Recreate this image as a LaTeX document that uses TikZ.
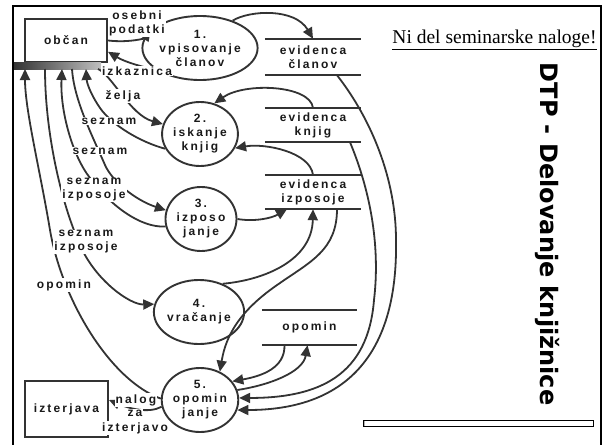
\documentclass[tikz,border=0pt]{standalone}
\usepackage{fontspec}
\setmainfont{Liberation Serif}
\newfontfamily\dfdfont[LetterSpace=18]{Liberation Sans Bold}
\newfontfamily\titlefont{DejaVu Sans Bold}
\usetikzlibrary{arrows.meta,shapes.geometric,calc}
\definecolor{ink}{HTML}{333333}
\begin{document}
\begin{tikzpicture}[x=1pt,y=-1pt,
  dfd/.style={font=\dfdfont\fontsize{12}{14}\selectfont, text=black!90},
  proc/.style={dfd, ellipse, draw=ink, line width=1.9pt, minimum width=71pt, minimum height=64pt, inner sep=0pt, align=center},
  entity/.style={dfd, draw=ink, line width=2pt, inner sep=0pt},
  store/.style={dfd, minimum width=96pt, inner sep=0pt, align=center},
  flow/.style={draw=ink, line width=1.8pt, -{Triangle[length=11pt,width=10pt]}},
  lbl/.style={dfd, fill=white, inner sep=1pt, align=center}
]
\useasboundingbox (0,0) rectangle (604,444);
% entities
\node[entity, minimum width=82pt, minimum height=43pt] (ob) at (66,40.5) {občan};
\shade[left color=black!80, right color=black!25] (14,62) rectangle (101,69);
\node[entity, minimum width=83pt, minimum height=56pt] (iz) at (66.5,409) {izterjava};
% processes
\node[proc] (p1) at (200,48) {1.\\vpisovanje\\članov};
\node[proc] (p2) at (200,134) {2.\\iskanje\\knjig};
\node[proc] (p3) at (201,219) {3.\\izposo\\janje};
\node[proc] (p4) at (199,312) {4.\\vračanje};
\node[proc] (p5) at (200,400) {5.\\opomin\\janje};
% stores
\node[store, minimum height=36pt] (s1) at (313,57) {evidenca\\članov};
\node[store, minimum height=34pt] (s2) at (313,125) {evidenca\\knjig};
\node[store, minimum height=34pt] (s3) at (313,192) {evidenca\\izposoje};
\node[store, minimum width=95pt, minimum height=35pt] (s4) at (309.5,327.5) {opomin};
\foreach \s in {s1,s2,s3,s4} \draw[ink, line width=1.8pt] (\s.north west) -- (\s.north east) (\s.south west) -- (\s.south east);
% bar points
\coordinate (b1) at (25,69);
\coordinate (b2) at (45,69);
\coordinate (b3) at (62,69);
\coordinate (b4) at (72,69);
\coordinate (b5) at (86,69);
\coordinate (b6) at (98,69);
% flows, top
\draw[flow] (ob.0) .. controls (130,43) and (145,38) .. (p1.160);
\draw[flow] (p1.205) .. controls (145,68) and (125,62) .. (ob.-15);
\draw[flow] (p1.40) .. controls (250,10) and (295,8) .. (s1.north);
\draw[flow] (s2.north) .. controls (310,85) and (245,82) .. (p2.65);
\draw[flow] (s3.north) .. controls (310,152) and (265,143) .. (p2.-22);
\draw[flow] (p3.0) .. controls (255,222) and (272,218) .. ($(s3.south)+(-26,0)$);
\draw[flow] (p4.50) .. controls (265,280) and (312,260) .. (s3.south);
\draw[flow] ($(s3.south)+(24,0)$) .. controls (337,250) and (310,262) .. (280,283) .. controls (240,310) and (226,335) .. (p5.55);
\draw[flow] ($(s4.south)+(-25,0)$) .. controls (285,368) and (262,376) .. (p5.30);
\draw[flow] (p5.15) .. controls (270,385) and (303,372) .. ($(s4.south)+(-2,0)$);
\draw[flow] ($(s2.south)+(37,0)$) .. controls (372,195) and (380,250) .. (374,300) .. controls (368,375) and (320,398) .. (p5.3);
\draw[flow] ($(s1.south)+(24,0)$) .. controls (372,120) and (396,180) .. (396,240) .. controls (398,350) and (350,410) .. (p5.-15);
% flows, left
\draw[flow] (p5.178) .. controls (110,380) and (62,300) .. (50,230) .. controls (40,170) and (25,110) .. (b1);
\draw[flow] (b2) .. controls (45,130) and (60,200) .. (80,245) .. controls (95,280) and (130,305) .. (p4.170);
\draw[flow] (p3.192) .. controls (140,228) and (110,205) .. (90,178) .. controls (72,155) and (60,110) .. (b3);
\draw[flow] (b4) .. controls (74,100) and (92,135) .. (105,165) .. controls (112,181) and (135,200) .. (p3.166);
\draw[flow] (p2.203) .. controls (140,142) and (112,125) .. (100,108) .. controls (93,98) and (87,85) .. (b5);
\draw[flow] (b6) .. controls (112,75) and (130,115) .. (p2.165);
\draw[flow] (p5.190) .. controls (148,414) and (128,408) .. ($(iz.east)+(0,-9)$);
% labels
\node[lbl] at (137,23) {osebni\\podatki};
\node[lbl] at (137,71) {izkaznica};
\node[lbl] at (123,96) {želja};
\node[lbl] at (109,121) {seznam};
\node[lbl] at (100,151) {seznam};
\node[lbl] at (94,190) {seznam\\izposoje};
\node[lbl] at (86,242) {seznam\\izposoje};
\node[lbl] at (64,285) {opomin};
\node[lbl] at (136,400) {nalog};
\node[lbl] at (135,413) {za};
\node[lbl] at (135,428) {izterjavo};
% right side
\node[rotate=-90, font=\titlefont\fontsize{24}{24}\selectfont] (title) at (547,234) {DTP - Delovanje knjižnice};
\node[anchor=base, font=\fontsize{19.5}{20}\selectfont] (note) at (494.5,44) {\underline{Ni del seminarske naloge!}};
\draw[black, line width=0.8pt, fill=white] (363,420) rectangle (593,426);
\fill[gray!60] (363.5,420.5) rectangle (365,425.5);
% frame
\draw[black, line width=2pt] (13,446) -- (13,6) -- (601,6) -- (601,446);
\end{tikzpicture}
\end{document}
